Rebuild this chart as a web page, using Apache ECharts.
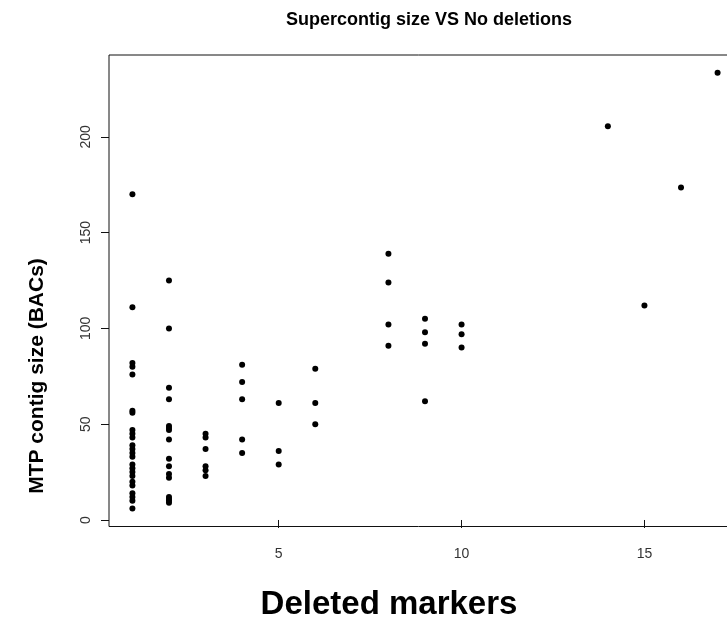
<!DOCTYPE html>
<html>
<head>
<meta charset="utf-8">
<script src="https://cdn.jsdelivr.net/npm/echarts@6/dist/echarts.min.js"></script>
<style>
  html, body { margin: 0; padding: 0; background: #fff; }
  #chart { width: 727px; height: 619px; }
</style>
</head>
<body>
<div id="chart"></div>
<script>
// Number of deleted markers per supercontig and the MTP contig size (BACs)
const deletedMarkers = [
  1, 1, 1, 1, 1, 1, 1, 1, 1, 1, 1, 1, 1, 1, 1, 1, 1, 1, 1, 1, 1, 1, 1, 1,
  2, 2, 2, 2, 2, 2, 2, 2, 2, 2, 2, 2, 2, 2, 2, 2,
  3, 3, 3, 3, 3, 3,
  4, 4, 4, 4, 4,
  5, 5, 5,
  6, 6, 6,
  8, 8, 8, 8,
  9, 9, 9, 9,
  10, 10, 10,
  14, 15, 16, 17
];
const contigSize = [
  170, 111, 82, 80, 76, 57, 56, 47, 45, 43, 39, 37, 35, 33, 29, 27, 25, 23, 20, 18, 14, 12, 10, 6,
  125, 100, 69, 63, 49, 48, 47, 42, 32, 28, 24, 22, 12, 11, 10, 9,
  45, 43, 37, 28, 26, 23,
  81, 72, 63, 42, 35,
  61, 36, 29,
  79, 61, 50,
  139, 124, 102, 91,
  105, 98, 92, 62,
  102, 97, 90,
  205.5, 112, 173.5, 233.5
];

const xTicks = [5, 10, 15];
const yTicks = [0, 50, 100, 150, 200];

const chartTitle = 'Supercontig size VS No deletions';
const xTitle = 'Deleted markers';
const yTitle = 'MTP contig size (BACs)';

const points = deletedMarkers.map((x, i) => [x, contigSize[i]]);

const FONT = '"Liberation Sans", Arial, sans-serif';
const chart = echarts.init(document.getElementById('chart'), null, { renderer: 'canvas' });

chart.setOption({
  backgroundColor: '#ffffff',
  animation: false,
  title: {
    text: chartTitle,
    left: 424,
    textAlign: 'center',
    top: 6,
    textStyle: { fontFamily: FONT, fontSize: 18, fontWeight: 'bold', color: '#000' }
  },
  grid: {
    left: 109,
    right: -14,
    top: 55,
    bottom: 92.5,
    show: true,
    borderColor: '#111',
    borderWidth: 1,
    backgroundColor: 'transparent',
    outerBoundsMode: 'none'
  },
  xAxis: {
    type: 'value',
    min: 0.36,
    max: 17.64,
    axisLine: { show: false },
    splitLine: { show: false },
    axisTick: {
      show: true,
      length: 8,
      customValues: xTicks,
      lineStyle: { color: '#111', width: 1 }
    },
    axisLabel: {
      customValues: xTicks,
      margin: 21,
      fontFamily: FONT,
      fontSize: 14,
      color: '#333'
    }
  },
  yAxis: {
    type: 'value',
    min: -3.4,
    max: 242.7,
    axisLine: { show: false },
    splitLine: { show: false },
    axisTick: {
      show: true,
      length: 8,
      customValues: yTicks,
      lineStyle: { color: '#111', width: 1 }
    },
    axisLabel: {
      customValues: yTicks,
      rotate: 90,
      margin: 16,
      fontFamily: FONT,
      fontSize: 14,
      color: '#333'
    }
  },
  graphic: [
    {
      type: 'text',
      x: 389,
      y: 605,
      style: {
        text: xTitle,
        font: 'bold 33px ' + FONT,
        fill: '#000',
        align: 'center',
        verticalAlign: 'middle'
      }
    },
    {
      type: 'text',
      x: 37,
      y: 376,
      rotation: Math.PI / 2,
      style: {
        text: yTitle,
        font: 'bold 21px ' + FONT,
        fill: '#000',
        align: 'center',
        verticalAlign: 'middle'
      }
    }
  ],
  series: [{
    type: 'scatter',
    data: points,
    symbol: 'circle',
    symbolSize: 6,
    itemStyle: { color: '#000', opacity: 1 },
    emphasis: { disabled: true }
  }]
});
</script>
</body>
</html>
